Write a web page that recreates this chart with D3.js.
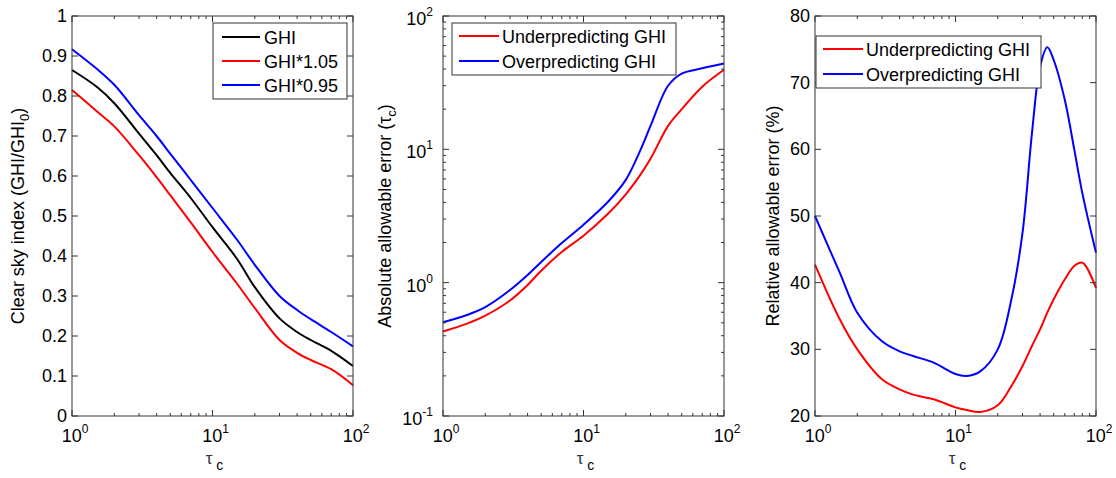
<!DOCTYPE html>
<html>
<head>
<meta charset="utf-8">
<script src="https://cdn.jsdelivr.net/npm/d3@7"></script>
<style>
  html, body { margin: 0; padding: 0; background: #fff; }
  svg { display: block; font-family: "Liberation Sans", Arial, sans-serif; }
  .tick-label { font-size: 18px; fill: #000; }
  .axis-label { font-size: 18px; fill: #000; }
  .legend-text { font-size: 18px; fill: #000; }
</style>
</head>
<body>
<div id="chart"></div>
<script>
const WIDTH = 1116;
const HEIGHT = 478;
const TOP = 16;
const BOTTOM = 416;

// Panel 1: clear sky index vs tau_c
const tau = [1, 1.5, 2, 3, 4, 5, 7, 10, 15, 20, 30, 40, 50, 70, 100];
const ghi = [0.865, 0.823, 0.782, 0.706, 0.652, 0.608, 0.545, 0.472, 0.392, 0.322, 0.244, 0.21, 0.19, 0.163, 0.125];
const ghi105 = [0.815, 0.762, 0.724, 0.652, 0.597, 0.552, 0.484, 0.41, 0.33, 0.27, 0.19, 0.158, 0.14, 0.117, 0.077];
const ghi095 = [0.917, 0.868, 0.828, 0.752, 0.70, 0.656, 0.59, 0.52, 0.44, 0.378, 0.30, 0.265, 0.242, 0.21, 0.174];

// Panel 2: absolute allowable error
const tau2 = [1, 1.5, 2, 3, 4, 5, 7, 10, 15, 20, 25, 30, 40, 50, 70, 100];
const absUnder = [0.43, 0.495, 0.565, 0.735, 0.96, 1.23, 1.7, 2.25, 3.3, 4.6, 6.3, 8.5, 15, 20, 29.5, 39.5];
const absOver = [0.505, 0.575, 0.655, 0.88, 1.14, 1.43, 1.98, 2.72, 4.06, 5.9, 9.5, 15, 30, 37, 40.5, 44];

// Panel 3: relative allowable error (%)
const tau3 = [1, 1.5, 2, 3, 4, 5, 7, 10, 12, 15, 20, 25, 30, 35, 40, 45, 50, 60, 70, 80, 100];
const relUnder = [42.7, 34.5, 30.0, 25.5, 24.0, 23.2, 22.5, 21.3, 20.9, 20.6, 21.6, 24.5, 27.5, 30.5, 33, 35.5, 37.5, 40.5, 42.5, 43, 39.2];
const relOver = [50, 41.5, 35.5, 31.2, 29.7, 29.0, 28.0, 26.3, 26.0, 26.7, 30, 37.5, 47.5, 62.4, 72.4, 75.3, 73.4, 67.4, 60, 53.4, 44.5];

const PANELS = [
  {
    left: 72, right: 353,
    yType: "linear", yDomain: [0, 1], yTicks: d3.range(0, 1.01, 0.1),
    yLabel: "p1",
    series: [
      { x: tau, y: ghi, color: "#000000", label: "GHI" },
      { x: tau, y: ghi105, color: "#ff0000", label: "GHI*1.05" },
      { x: tau, y: ghi095, color: "#0000ff", label: "GHI*0.95" },
    ],
    legend: { x: 213, y: 23, w: 134, h: 76, lineX: 222, lineW: 38, textX: 264, rowY: 37, rowH: 24 },
    labelX: 18,
  },
  {
    left: 443, right: 724,
    yType: "log", yDomain: [0.1, 100],
    yLabel: "p2",
    series: [
      { x: tau2, y: absUnder, color: "#ff0000", label: "Underpredicting GHI" },
      { x: tau2, y: absOver, color: "#0000ff", label: "Overpredicting GHI" },
    ],
    legend: { x: 452, y: 23, w: 224, h: 52, lineX: 459, lineW: 40, textX: 502, rowY: 36, rowH: 25 },
    labelX: 385,
  },
  {
    left: 815, right: 1096,
    yType: "linear", yDomain: [20, 80], yTicks: d3.range(20, 81, 10),
    yLabel: "p3",
    series: [
      { x: tau3, y: relUnder, color: "#ff0000", label: "Underpredicting GHI" },
      { x: tau3, y: relOver, color: "#0000ff", label: "Overpredicting GHI" },
    ],
    legend: { x: 816, y: 36, w: 225, h: 52, lineX: 823, lineW: 40, textX: 866, rowY: 49, rowH: 25 },
    labelX: 773,
  },
];

const svg = d3.select("#chart")
  .append("svg")
  .attr("width", WIDTH)
  .attr("height", HEIGHT);

function logLabel(sel, exp) {
  sel.append("tspan").text("10");
  sel.append("tspan")
    .attr("font-size", 12)
    .attr("dy", -9)
    .text(exp);
}

PANELS.forEach((p) => {
  const x = d3.scaleLog().domain([1, 100]).range([p.left, p.right]);
  const y = p.yType === "log"
    ? d3.scaleLog().domain(p.yDomain).range([BOTTOM, TOP])
    : d3.scaleLinear().domain(p.yDomain).range([BOTTOM, TOP]);

  const g = svg.append("g");

  // —— Series ——
  const line = d3.line()
    .curve(d3.curveCatmullRom.alpha(0.5))
    .x((d) => x(d[0]))
    .y((d) => y(d[1]));

  p.series.forEach((s) => {
    g.append("path")
      .datum(s.x.map((v, i) => [v, s.y[i]]))
      .attr("fill", "none")
      .attr("stroke", s.color)
      .attr("stroke-width", 2)
      .attr("d", line);
  });

  // —— Frame ——
  g.append("rect")
    .attr("x", p.left).attr("y", TOP)
    .attr("width", p.right - p.left).attr("height", BOTTOM - TOP)
    .attr("fill", "none").attr("stroke", "#333").attr("stroke-width", 1);

  // —— X ticks (log, major + minor) ——
  const xMinor = [];
  for (let dec = 1; dec < 100; dec *= 10) {
    for (let k = 2; k <= 9; k++) xMinor.push(dec * k);
  }
  const tickG = g.append("g").attr("stroke", "#333").attr("stroke-width", 1);
  [1, 10, 100].forEach((v) => {
    tickG.append("line").attr("x1", x(v)).attr("x2", x(v)).attr("y1", BOTTOM).attr("y2", BOTTOM - 6);
    tickG.append("line").attr("x1", x(v)).attr("x2", x(v)).attr("y1", TOP).attr("y2", TOP + 6);
  });
  xMinor.forEach((v) => {
    tickG.append("line").attr("x1", x(v)).attr("x2", x(v)).attr("y1", BOTTOM).attr("y2", BOTTOM - 3);
    tickG.append("line").attr("x1", x(v)).attr("x2", x(v)).attr("y1", TOP).attr("y2", TOP + 3);
  });

  [[1, "0"], [10, "1"], [100, "2"]].forEach(([v, e]) => {
    const t = g.append("text")
      .attr("class", "tick-label")
      .attr("x", x(v) + 3)
      .attr("y", BOTTOM + 26)
      .attr("text-anchor", "middle");
    logLabel(t, e);
  });

  // —— Y ticks ——
  if (p.yType === "log") {
    const majors = [0.1, 1, 10, 100];
    const minors = [];
    for (let dec = 0.1; dec < 99; dec *= 10) {
      for (let k = 2; k <= 9; k++) minors.push(dec * k);
    }
    majors.forEach((v) => {
      tickG.append("line").attr("x1", p.left).attr("x2", p.left + 6).attr("y1", y(v)).attr("y2", y(v));
      tickG.append("line").attr("x1", p.right).attr("x2", p.right - 6).attr("y1", y(v)).attr("y2", y(v));
    });
    minors.forEach((v) => {
      tickG.append("line").attr("x1", p.left).attr("x2", p.left + 3).attr("y1", y(v)).attr("y2", y(v));
      tickG.append("line").attr("x1", p.right).attr("x2", p.right - 3).attr("y1", y(v)).attr("y2", y(v));
    });
    [[0.1, "-1"], [1, "0"], [10, "1"], [100, "2"]].forEach(([v, e]) => {
      const t = g.append("text")
        .attr("class", "tick-label")
        .attr("x", p.left - 10)
        .attr("y", y(v) + 9)
        .attr("text-anchor", "end");
      logLabel(t, e);
    });
  } else {
    p.yTicks.forEach((v) => {
      tickG.append("line").attr("x1", p.left).attr("x2", p.left + 6).attr("y1", y(v)).attr("y2", y(v));
      tickG.append("line").attr("x1", p.right).attr("x2", p.right - 6).attr("y1", y(v)).attr("y2", y(v));
      g.append("text")
        .attr("class", "tick-label")
        .attr("x", p.left - 5)
        .attr("y", y(v) + 6)
        .attr("text-anchor", "end")
        .text(p.yDomain[1] <= 1 ? (Math.round(v * 10) / 10).toString() : Math.round(v).toString());
    });
  }

  // —— X label: tau_c ——
  const xl = g.append("text")
    .attr("class", "axis-label")
    .attr("x", (p.left + p.right) / 2 + 2)
    .attr("y", 464)
    .attr("text-anchor", "middle");
  xl.append("tspan").attr("font-size", 17).attr("fill", "#333").text("τ");
  xl.append("tspan").attr("font-size", 14).attr("dy", 6).attr("dx", 4).text("c");

  // —— Y label ——
  const yl = g.append("text")
    .attr("class", "axis-label")
    .attr("transform", `translate(${p.labelX + 6},${(TOP + BOTTOM) / 2}) rotate(-90)`)
    .attr("text-anchor", "middle");
  if (p.yLabel === "p1") {
    yl.append("tspan").text("Clear sky index (GHI/GHI");
    yl.append("tspan").attr("font-size", 13).attr("dy", 5).text("0");
    yl.append("tspan").attr("dy", -5).text(")");
  } else if (p.yLabel === "p2") {
    yl.append("tspan").text("Absolute allowable error (τ");
    yl.append("tspan").attr("font-size", 13).attr("dy", 5).text("c");
    yl.append("tspan").attr("dy", -5).text(")");
  } else {
    yl.text("Relative allowable error (%)");
  }

  // —— Legend ——
  const L = p.legend;
  const lg = g.append("g");
  lg.append("rect")
    .attr("x", L.x).attr("y", L.y).attr("width", L.w).attr("height", L.h)
    .attr("fill", "#fff").attr("stroke", "#333").attr("stroke-width", 1);
  p.series.forEach((s, i) => {
    const cy = L.rowY + i * L.rowH;
    lg.append("line")
      .attr("x1", L.lineX).attr("x2", L.lineX + L.lineW)
      .attr("y1", cy).attr("y2", cy)
      .attr("stroke", s.color).attr("stroke-width", 2);
    lg.append("text")
      .attr("class", "legend-text")
      .attr("x", L.textX)
      .attr("y", cy + 6.5)
      .text(s.label);
  });
});
</script>
</body>
</html>
